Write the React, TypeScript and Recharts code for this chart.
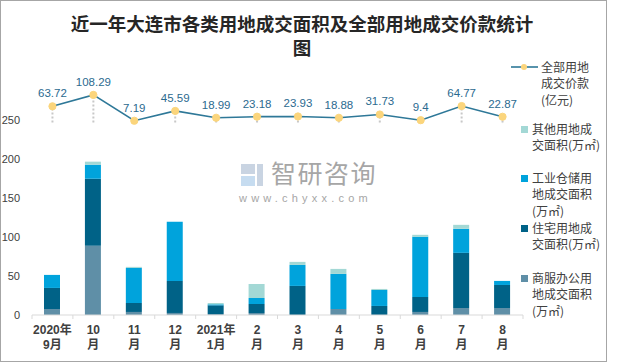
import {
  ComposedChart,
  Bar,
  Line,
  XAxis,
  YAxis,
  ErrorBar,
  LabelList,
} from "recharts";

const title = "近一年大连市各类用地成交面积及全部用地成交价款统计图";

const months = [
  "2020年\n9月",
  "10\n月",
  "11\n月",
  "12\n月",
  "2021年\n1月",
  "2\n月",
  "3\n月",
  "4\n月",
  "5\n月",
  "6\n月",
  "7\n月",
  "8\n月",
];

// 万㎡
const commercial = [7.7, 88.7, 3.9, 2.6, 1.3, 2.6, 0, 7.7, 0, 3.9, 9, 9];
const residential = [27, 86, 11.5, 41.1, 11.1, 11.5, 37.3, 0, 11.6, 19.2, 70.7, 29.5];
const industrial = [16.7, 18, 45, 75.8, 1.3, 7.7, 26.9, 45, 20.5, 77.1, 30.8, 5.2];
const other = [0, 3.9, 1.3, 0, 1.7, 18, 3.9, 6.4, 1.3, 2.6, 5.1, 0];
// 亿元
const price = [63.72, 108.29, 7.19, 45.59, 18.99, 23.18, 23.93, 18.88, 31.73, 9.4, 64.77, 22.87];

const areaTicks = [0, 50, 100, 150, 200, 250];

const priceName = "全部用地\n成交价款\n(亿元)";
const otherName = "其他用地成\n交面积(万㎡)";
const industrialName = "工业仓储用\n地成交面积\n(万㎡)";
const residentialName = "住宅用地成\n交面积(万㎡)";
const commercialName = "商服办公用\n地成交面积\n(万㎡)";

const C_COMM = "#5f8fa7";
const C_RES = "#006287";
const C_IND = "#00a3dc";
const C_OTHER = "#a3d8d5";
const C_LINE = "#2e7898";
const C_DOT = "#fbd57c";
const TXT = "#404040";

const data = months.map((m, i) => ({
  month: m,
  commercial: commercial[i],
  residential: residential[i],
  industrial: industrial[i],
  other: other[i],
  price: price[i],
}));

function MonthTick(props: any) {
  const { x, y, payload, index, visibleTicksCount } = props;
  const half = payload.offset ?? 0;
  const lines = String(payload.value).split("\n");
  return (
    <g>
      <line x1={x - half} x2={x - half} y1={y} y2={y + 4} stroke="#d9d9d9" />
      {index === visibleTicksCount - 1 && (
        <line x1={x + half} x2={x + half} y1={y} y2={y + 4} stroke="#d9d9d9" />
      )}
      <text
        x={x}
        textAnchor="middle"
        fill={TXT}
        fontSize={12}
        fontWeight="bold"
        fontFamily="'Liberation Sans', 'Noto Sans CJK SC', sans-serif"
      >
        {lines.map((l, k) => (
          <tspan key={k} x={x} y={y + 19 + k * 15}>
            {l}
          </tspan>
        ))}
      </text>
    </g>
  );
}

const legendText = {
  position: "absolute" as const,
  fontSize: 12,
  lineHeight: "16.5px",
  color: TXT,
  whiteSpace: "pre" as const,
  fontFamily: "'Noto Sans CJK SC', sans-serif",
};

function SquareItem({ top, color, label }: { top: number; color: string; label: string }) {
  return (
    <>
      <div
        style={{
          position: "absolute",
          left: 521,
          top: top + 5,
          width: 7,
          height: 7,
          background: color,
        }}
      />
      <div style={{ ...legendText, left: 532, top }}>{label}</div>
    </>
  );
}

export default function App() {
  return (
    <div
      style={{
        position: "absolute",
        left: 0,
        top: 0,
        width: 620,
        height: 363,
        background: "#fff",
        overflow: "hidden",
      }}
    >
      <div
        style={{
          position: "absolute",
          left: 0,
          top: 0,
          width: 607,
          height: 362,
          border: "1px solid #a6a6a6",
          boxSizing: "border-box",
        }}
      />
      <div
        style={{
          position: "absolute",
          left: 64,
          top: 11,
          width: 476,
          textAlign: "center",
          fontSize: 18.5,
          lineHeight: "24px",
          fontWeight: "bold",
          color: "#262626",
          fontFamily: "'Noto Sans CJK SC', sans-serif",
        }}
      >
        {title}
      </div>

      {/* watermark */}
      <div style={{ position: "absolute", left: 241, top: 164, width: 22, height: 22 }}>
        <div style={{ position: "absolute", left: 0, top: 0, width: 14, height: 10, background: "#c9d4e2" }} />
        <div style={{ position: "absolute", left: 0, top: 12, width: 14, height: 10, background: "#c6dcf0" }} />
        <div style={{ position: "absolute", left: 16, top: 0, width: 6, height: 22, background: "#c9d4e2" }} />
      </div>
      <div
        style={{
          position: "absolute",
          left: 271,
          top: 160,
          fontSize: 25,
          lineHeight: "25px",
          color: "#a6a6a6",
          letterSpacing: 1.5,
          fontFamily: "'Noto Sans CJK SC', sans-serif",
        }}
      >
        智研咨询
      </div>
      <div
        style={{
          position: "absolute",
          left: 239,
          top: 192,
          fontSize: 11,
          lineHeight: "12px",
          color: "#a6a6a6",
          letterSpacing: 4.2,
          fontFamily: "'Liberation Sans', sans-serif",
        }}
      >
        www.chyxx.com
      </div>

      <div style={{ position: "absolute", left: 0, top: 0 }}>
        <ComposedChart
          width={620}
          height={363}
          data={data}
          margin={{ top: 42, right: 97, bottom: 8, left: 0 }}
        >
          <XAxis
            dataKey="month"
            height={40}
            axisLine={{ stroke: "#d9d9d9" }}
            tickLine={false}
            tickSize={0}
            tickMargin={0}
            interval={0}
            tick={<MonthTick />}
          />
          <YAxis
            yAxisId="left"
            width={32}
            domain={[0, 350]}
            ticks={areaTicks}
            axisLine={false}
            tickLine={false}
            tickSize={0}
            tickMargin={12}
            tick={{
              fill: TXT,
              fontSize: 11,
              fontFamily: "'Liberation Sans', sans-serif",
            }}
          />
          <YAxis yAxisId="right" orientation="right" hide domain={[-752, 315]} />
          <Bar yAxisId="left" dataKey="commercial" stackId="a" fill={C_COMM} barSize={16} isAnimationActive={false} />
          <Bar yAxisId="left" dataKey="residential" stackId="a" fill={C_RES} barSize={16} isAnimationActive={false} />
          <Bar yAxisId="left" dataKey="industrial" stackId="a" fill={C_IND} barSize={16} isAnimationActive={false} />
          <Bar yAxisId="left" dataKey="other" stackId="a" fill={C_OTHER} barSize={16} isAnimationActive={false} />
          <Line
            yAxisId="right"
            dataKey="price"
            stroke={C_LINE}
            strokeWidth={1.6}
            dot={{ r: 3.6, fill: C_DOT, stroke: C_DOT, strokeWidth: 1 }}
            activeDot={false}
            isAnimationActive={false}
          >
            <ErrorBar
              dataKey={(d: any) => [d.price, 0]}
              direction="y"
              width={0}
              stroke="#c8c8c8"
              strokeWidth={2}
              strokeDasharray="2 2"
            />
            <LabelList
              dataKey="price"
              position="top"
              offset={9}
              fill="#2b6a8f"
              fontSize={11.5}
              fontFamily="'Liberation Sans', sans-serif"
            />
          </Line>
        </ComposedChart>
      </div>

      {/* legend */}
      <svg style={{ position: "absolute", left: 511, top: 62 }} width={28} height={10}>
        <line x1={0} x2={27} y1={5} y2={5} stroke={C_LINE} strokeWidth={1.6} />
        <circle cx={13} cy={5} r={3} fill={C_DOT} />
      </svg>
      <div style={{ ...legendText, left: 541, top: 58.5 }}>{priceName}</div>
      <SquareItem top={120.5} color={C_OTHER} label={otherName} />
      <SquareItem top={169.5} color={C_IND} label={industrialName} />
      <SquareItem top={219.5} color={C_RES} label={residentialName} />
      <SquareItem top={269.5} color={C_COMM} label={commercialName} />
    </div>
  );
}
